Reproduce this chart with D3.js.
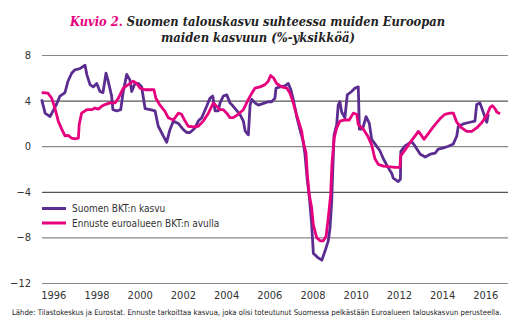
<!DOCTYPE html>
<meta charset="utf-8">
<script src="https://d3js.org/d3.v7.min.js"></script>
<style>
  body { margin: 0; background: #fff; }
</style>
<div id="chart"></div>
<script>

// tick labels
var yTicks = [8, 4, 0, -4, -8, -12];
var xTicks = [1996, 1998, 2000, 2002, 2004, 2006, 2008, 2010, 2012, 2014, 2016];

// Suomen BKT:n kasvu
var finYears = [1995.46, 1995.62, 1995.85, 1996.13, 1996.31, 1996.54, 1996.68, 1996.85, 1997.00, 1997.23,
  1997.47, 1997.55, 1997.70, 1997.85, 1998.01, 1998.16, 1998.30, 1998.44, 1998.53, 1998.70,
  1998.76, 1998.94, 1999.12, 1999.23, 1999.40, 1999.55, 1999.63, 1999.78, 1999.94, 2000.09,
  2000.25, 2000.48, 2000.71, 2000.86, 2001.09, 2001.25, 2001.40, 2001.56, 2001.79, 2002.02,
  2002.18, 2002.33, 2002.56, 2002.71, 2002.87, 2003.10, 2003.25, 2003.38, 2003.49, 2003.64,
  2003.72, 2003.87, 2004.03, 2004.18, 2004.33, 2004.64, 2004.80, 2004.88, 2005.03, 2005.11,
  2005.19, 2005.34, 2005.49, 2005.80, 2005.95, 2006.11, 2006.26, 2006.31, 2006.50, 2006.73,
  2006.88, 2006.99, 2007.11, 2007.27, 2007.42, 2007.57, 2007.65, 2007.76, 2007.86, 2007.96,
  2008.04, 2008.27, 2008.43, 2008.58, 2008.73, 2008.81, 2008.89, 2008.92, 2009.00, 2009.12,
  2009.19, 2009.27, 2009.35, 2009.50, 2009.61, 2009.81, 2009.97, 2010.12, 2010.17, 2010.32,
  2010.48, 2010.63, 2010.74, 2010.89, 2011.12, 2011.28, 2011.51, 2011.67, 2011.74, 2011.97,
  2012.07, 2012.09, 2012.27, 2012.43, 2012.59, 2012.75, 2012.99, 2013.22, 2013.45, 2013.68,
  2013.82, 2014.06, 2014.29, 2014.52, 2014.68, 2014.75, 2014.98, 2015.29, 2015.52, 2015.60,
  2015.75, 2015.91, 2016.07, 2016.14];
var finValues = [4.1, 2.9, 2.6, 3.6, 4.4, 4.7, 5.7, 6.4, 6.7, 6.8,
  7.1, 6.3, 5.4, 5.2, 5.5, 4.8, 4.7, 6.4, 5.8, 4.4,
  3.2, 3.1, 3.2, 4.7, 6.3, 5.8, 4.8, 5.5, 5.5, 5.2,
  3.3, 3.2, 3.1, 1.75, 0.9, 0.35, 1.45, 2.2, 2.0, 1.45,
  1.2, 1.2, 1.6, 2.2, 2.5, 3.5, 4.2, 4.4, 3.1, 3.1,
  3.8, 4.4, 4.5, 3.8, 3.5, 2.8, 2.2, 1.35, 1.0, 3.6,
  4.1, 3.8, 3.6, 3.8, 3.9, 3.9, 4.2, 5.1, 5.2, 5.3,
  5.5, 5.0, 4.1, 2.6, 1.45, 0.4, -0.7, -3.0, -4.6, -6.8,
  -9.4, -9.8, -10.0, -9.2, -8.3, -7.2, -4.8, -3.0, 1.0, 1.9,
  3.6, 3.9, 3.0, 2.5, 4.5, 4.8, 5.1, 5.2, 1.5, 1.5,
  2.6, 2.0, 0.6, 0.2, -0.4, -1.1, -1.9, -2.4, -2.8, -3.1,
  -2.9, -0.45, 0.0, 0.2, 0.4, 0.0, -0.7, -0.95, -0.7, -0.6,
  -0.25, -0.15, 0.0, 0.2, 0.9, 1.75, 1.95, 2.1, 2.2, 3.65,
  3.8, 2.95, 2.1, 2.8];

// Ennuste euroalueen BKT:n avulla
var euroYears = [1995.46, 1995.75, 1995.93, 1996.08, 1996.23, 1996.39, 1996.54, 1996.69, 1996.85, 1997.00,
  1997.16, 1997.20, 1997.31, 1997.55, 1997.78, 1997.93, 1998.08, 1998.24, 1998.39, 1998.63,
  1998.86, 1999.01, 1999.24, 1999.47, 1999.70, 1999.86, 2000.01, 2000.25, 2000.48, 2000.66,
  2000.75, 2000.94, 2001.17, 2001.32, 2001.56, 2001.79, 2001.94, 2002.10, 2002.25, 2002.48,
  2002.71, 2002.94, 2003.18, 2003.41, 2003.56, 2003.72, 2003.87, 2004.03, 2004.18, 2004.33,
  2004.56, 2004.80, 2005.03, 2005.19, 2005.34, 2005.57, 2005.80, 2005.95, 2006.06, 2006.19,
  2006.34, 2006.57, 2006.81, 2006.96, 2007.11, 2007.27, 2007.50, 2007.57, 2007.70, 2007.76,
  2007.85, 2007.96, 2008.04, 2008.19, 2008.35, 2008.50, 2008.63, 2008.73, 2008.84, 2008.90,
  2009.00, 2009.12, 2009.27, 2009.50, 2009.70, 2009.89, 2010.05, 2010.12, 2010.35, 2010.58,
  2010.74, 2010.89, 2011.05, 2011.28, 2011.51, 2011.82, 2012.05, 2012.08, 2012.28, 2012.51,
  2012.67, 2012.75, 2012.90, 2013.06, 2013.16, 2013.36, 2013.59, 2013.90, 2014.13, 2014.36,
  2014.52, 2014.68, 2014.91, 2015.14, 2015.37, 2015.60, 2015.83, 2016.07, 2016.22, 2016.33,
  2016.45, 2016.53, 2016.68];
var euroValues = [4.7, 4.65, 4.2, 3.3, 2.2, 1.5, 0.9, 0.95, 0.7, 0.65,
  0.7, 1.9, 2.9, 3.2, 3.2, 3.35, 3.25, 3.5, 3.65, 3.8,
  3.8, 4.2, 5.1, 5.4, 5.7, 5.5, 5.1, 4.95, 4.95, 4.95,
  4.2, 3.6, 3.05, 2.5, 2.3, 2.9, 2.8, 2.2, 1.75, 1.7,
  1.75, 2.2, 2.9, 3.8, 3.5, 3.2, 3.2, 2.9, 2.5, 2.5,
  2.8, 3.2, 4.1, 4.65, 5.1, 5.2, 5.4, 5.7, 6.2, 6.0,
  5.5, 5.2, 5.1, 4.65, 3.8, 2.7, 1.3, 0.4, -0.6, -2.5,
  -4.25, -5.4, -6.9, -8.0, -8.3, -8.3, -7.9, -6.3, -4.25, -1.6,
  0.7, 1.6, 2.2, 2.3, 2.3, 2.9, 2.8, 1.9, 1.5, 0.8,
  0.1, -1.1, -1.6, -1.75, -1.8, -1.85, -1.85, -0.85, -0.35, 0.3,
  0.7, 0.9, 1.3, 0.9, 0.6, 1.1, 1.7, 2.4, 2.8, 2.9,
  2.9, 2.1, 1.6, 1.3, 1.3, 1.6, 2.05, 2.7, 3.4, 3.55,
  3.3, 3.0, 2.85];

var seriesNames = ["Suomen BKT:n kasvu", "Ennuste euroalueen BKT:n avulla"];
var seriesColors = ["#5b2d90", "#e6007e"];

var width = 526, height = 333;
var gridLeft = 42, gridRight = 508;

var svg = d3.select("#chart").append("svg")
    .attr("width", width)
    .attr("height", height);

var x = d3.scaleLinear().domain([1996, 2016]).range([53.3, 485.3]);
var y = d3.scaleLinear().domain([-12, 8]).range([283, 55]);

var condensed = "'Liberation Sans Narrow', 'DejaVu Sans Condensed', sans-serif";

// title
var title = svg.append("text")
    .attr("text-anchor", "middle")
    .style("font-family", "'DejaVu Serif Condensed', 'DejaVu Serif', serif")
    .style("font-weight", "bold")
    .style("font-style", "italic")
    .style("font-size", "13px")
    .attr("fill", "#222");
title.append("tspan")
    .attr("x", 257.5).attr("y", 26)
    .attr("textLength", 375).attr("lengthAdjust", "spacingAndGlyphs")
    .selectAll("tspan")
    .data([["Kuvio 2. ", "#e6007e"], ["Suomen talouskasvu suhteessa muiden Euroopan", "#222"]])
    .join("tspan")
    .attr("fill", function(d) { return d[1]; })
    .text(function(d) { return d[0]; });
title.append("tspan")
    .attr("x", 258).attr("y", 42)
    .attr("textLength", 194).attr("lengthAdjust", "spacingAndGlyphs")
    .text("maiden kasvuun (%-yksikköä)");

// y axis with grid lines
var yAxis = svg.append("g")
    .attr("transform", "translate(" + gridLeft + ",0)")
    .call(d3.axisLeft(y).tickValues(yTicks).tickSize(-(gridRight - gridLeft)).tickPadding(11));
yAxis.select(".domain").remove();
yAxis.selectAll("line")
    .attr("stroke", function(d) { return (d === 4 || d === -4) ? "#555" : "#888"; })
    .attr("stroke-width", 1.2);
yAxis.selectAll("text")
    .style("font-family", condensed)
    .style("font-size", "11px")
    .attr("fill", "#333");

// x axis labels
var xAxis = svg.append("g")
    .attr("transform", "translate(0,283)")
    .call(d3.axisBottom(x).tickValues(xTicks).tickFormat(d3.format("d")).tickSize(0).tickPadding(8));
xAxis.select(".domain").remove();
xAxis.selectAll("text")
    .style("font-family", condensed)
    .style("font-size", "11px")
    .attr("fill", "#333");

// lines
var line = d3.line()
    .x(function(d) { return x(d[0]); })
    .y(function(d) { return y(d[1]); });

var finData = d3.zip(finYears, finValues);
var euroData = d3.zip(euroYears, euroValues);

svg.append("path")
    .datum(finData)
    .attr("d", line)
    .attr("fill", "none")
    .attr("stroke", seriesColors[0])
    .attr("stroke-width", 2.8)
    .attr("stroke-linejoin", "round");

svg.append("path")
    .datum(euroData)
    .attr("d", line)
    .attr("fill", "none")
    .attr("stroke", seriesColors[1])
    .attr("stroke-width", 2.8)
    .attr("stroke-linejoin", "round");

// legend
var legend = svg.append("g");
var rows = legend.selectAll("g")
    .data(seriesNames)
    .join("g")
    .attr("transform", function(d, i) { return "translate(42," + (208.5 + i * 14.5) + ")"; });
rows.append("line")
    .attr("x1", 0).attr("x2", 24)
    .attr("stroke", function(d, i) { return seriesColors[i]; })
    .attr("stroke-width", 3);
rows.append("text")
    .attr("x", 30)
    .attr("dy", "0.35em")
    .style("font-family", condensed)
    .style("font-size", "10px")
    .attr("fill", "#333")
    .text(function(d) { return d; });

// source note, font size fitted to the width it has in the picture
var note = svg.append("text")
    .attr("x", 12).attr("y", 315)
    .style("font-family", condensed)
    .style("font-size", "10px")
    .attr("fill", "#222")
    .text("Lähde: Tilastokeskus ja Eurostat. Ennuste tarkoittaa kasvua, joka olisi toteutunut Suomessa pelkästään Euroalueen talouskasvun perusteella.");
var noteWidth = note.node().getComputedTextLength();
note.style("font-size", (10 * 490 / noteWidth).toFixed(2) + "px");

</script>
